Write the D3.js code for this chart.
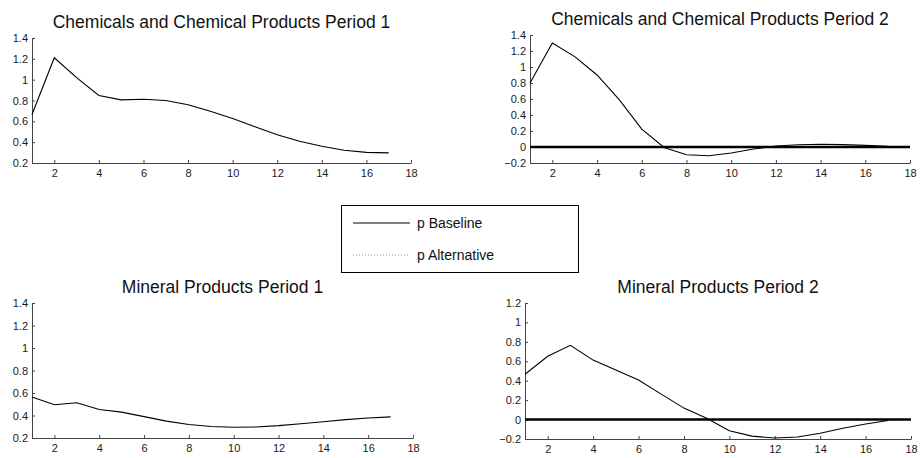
<!DOCTYPE html>
<html>
<head>
<meta charset="utf-8">
<script src="https://cdn.jsdelivr.net/npm/d3@7"></script>
<style>
  body { margin: 0; background: #fff; }
  text { font-family: "Liberation Sans", Arial, Helvetica, sans-serif; }
</style>
</head>
<body>
<svg id="chart" width="920" height="458"></svg>
<script>
// Horizon (periods) shared by every panel
const periods = d3.range(1, 18);
const xTickValues = [2, 4, 6, 8, 10, 12, 14, 16, 18];

// Responses of p, baseline scenario
const chemPeriod1 = [0.665, 1.21, 1.02, 0.848, 0.806, 0.812, 0.800, 0.760, 0.697, 0.627, 0.548, 0.472, 0.408, 0.360, 0.322, 0.302, 0.297];
const chemPeriod2 = [0.80, 1.30, 1.13, 0.90, 0.59, 0.224, -0.005, -0.096, -0.11, -0.075, -0.025, 0.012, 0.028, 0.034, 0.030, 0.020, 0.010];
const minPeriod1 = [0.565, 0.495, 0.513, 0.454, 0.430, 0.390, 0.350, 0.320, 0.302, 0.296, 0.298, 0.310, 0.327, 0.345, 0.363, 0.378, 0.388];
const minPeriod2 = [0.466, 0.652, 0.765, 0.612, 0.510, 0.407, 0.262, 0.118, 0.014, -0.115, -0.170, -0.190, -0.180, -0.140, -0.090, -0.045, -0.010];

// Y tick sets
const yTicksPos = [0.2, 0.4, 0.6, 0.8, 1, 1.2, 1.4];
const yTicksChem2 = [-0.2, 0, 0.2, 0.4, 0.6, 0.8, 1, 1.2, 1.4];
const yTicksMin2 = [-0.2, 0, 0.2, 0.4, 0.6, 0.8, 1, 1.2];

const titles = [
  "Chemicals and Chemical Products Period 1",
  "Chemicals and Chemical Products Period 2",
  "Mineral Products Period 1",
  "Mineral Products Period 2"
];

const legendLabels = ["p Baseline", "p Alternative"];

const panels = [
  { title: titles[0], values: chemPeriod1, yTicks: yTicksPos, box: [32, 411, 38, 163], zeroLine: false },
  { title: titles[1], values: chemPeriod2, yTicks: yTicksChem2, box: [530, 910, 35, 163], zeroLine: true },
  { title: titles[2], values: minPeriod1, yTicks: yTicksPos, box: [32, 413, 303, 438], zeroLine: false },
  { title: titles[3], values: minPeriod2, yTicks: yTicksMin2, box: [525, 911, 303, 439], zeroLine: true }
];

const svg = d3.select("#chart");
const fmt = v => (Math.abs(v) < 1e-9 ? "0" : String(+v.toFixed(1))).replace("-", "\u2212");

panels.forEach(p => {
  const [x0, x1, y0, y1] = p.box;
  const x = d3.scaleLinear().domain([1, 18]).range([x0, x1]);
  const yExt = d3.extent(p.yTicks);
  const y = d3.scaleLinear().domain(yExt).range([y1, y0]);

  const g = svg.append("g");

  // Title
  g.append("text")
    .attr("x", (x0 + x1) / 2)
    .attr("y", y0 - 10)
    .attr("text-anchor", "middle")
    .attr("font-size", "17.5px")
    .attr("fill", "#111")
    .text(p.title);

  // Axes (ticks point inward)
  const xAxis = d3.axisBottom(x).tickValues(xTickValues).tickSizeInner(-3).tickSizeOuter(0).tickPadding(6).tickFormat(d3.format("d"));
  const yAxis = d3.axisLeft(y).tickValues(p.yTicks).tickSizeInner(-3).tickSizeOuter(0).tickPadding(4).tickFormat(fmt);

  const gx = g.append("g").attr("transform", `translate(0,${y1})`).call(xAxis);
  const gy = g.append("g").attr("transform", `translate(${x0},0)`).call(yAxis);

  [gx, gy].forEach(a => {
    a.select(".domain").attr("stroke", "#444");
    a.selectAll(".tick line").attr("stroke", "#444");
    a.selectAll("text").attr("font-size", "11px").attr("fill", "#1a1a1a")
      .attr("font-family", "'Liberation Sans', Arial, Helvetica, sans-serif");
  });

  // Zero reference line
  if (p.zeroLine) {
    g.append("line")
      .attr("x1", x(1)).attr("x2", x(18))
      .attr("y1", y(0)).attr("y2", y(0))
      .attr("stroke", "#000")
      .attr("stroke-width", 2.6);
  }

  // Baseline response
  const line = d3.line().x((d, i) => x(periods[i])).y(d => y(d));
  g.append("path")
    .datum(p.values)
    .attr("d", line)
    .attr("fill", "none")
    .attr("stroke", "#000")
    .attr("stroke-width", 1.1);
});

// Legend
const legend = svg.append("g");
legend.append("rect")
  .attr("x", 341.5).attr("y", 205.5)
  .attr("width", 237).attr("height", 67)
  .attr("fill", "#fff").attr("stroke", "#000").attr("stroke-width", 1);

const legendRows = [
  { label: legendLabels[0], y: 223, dash: null, color: "#000" },
  { label: legendLabels[1], y: 255, dash: "1,2", color: "#999" }
];
legendRows.forEach(r => {
  legend.append("line")
    .attr("x1", 353).attr("x2", 410)
    .attr("y1", r.y).attr("y2", r.y)
    .attr("stroke", r.color)
    .attr("stroke-width", 1)
    .attr("stroke-dasharray", r.dash);
  legend.append("text")
    .attr("x", 417).attr("y", r.y + 5)
    .attr("font-size", "14px")
    .attr("fill", "#111")
    .text(r.label);
});
</script>
</body>
</html>
